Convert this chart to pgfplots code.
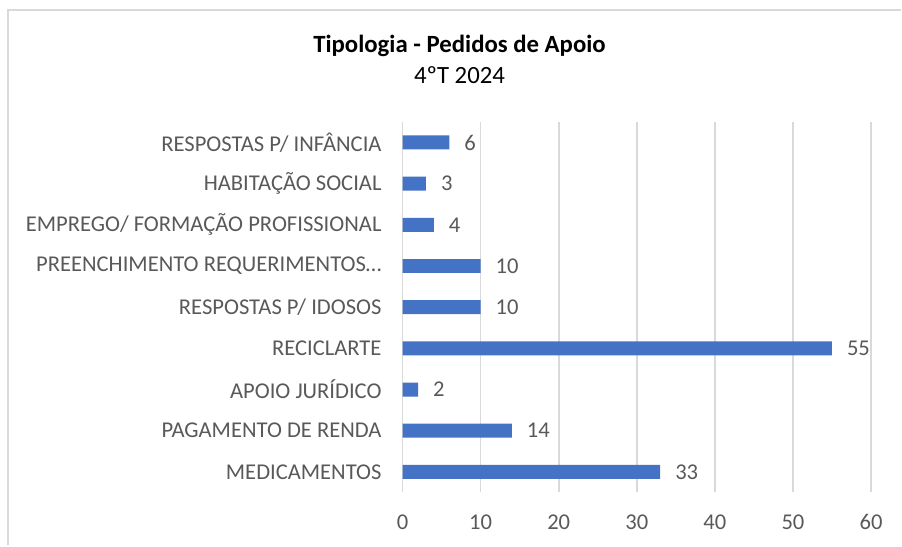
\documentclass[border=0pt]{standalone}
\usepackage{pgfplots}
\pgfplotsset{compat=1.18}
\usepackage{fontspec}
\setmainfont{Carlito}
\definecolor{barblue}{HTML}{4472C4}
\definecolor{txtgray}{HTML}{595959}
\definecolor{gridgray}{HTML}{D9D9D9}
\begin{document}
\begin{tikzpicture}
\begin{scope}[x=0.5pt,y=-0.5pt]
\path (0,0) rectangle (902,546);
\draw[gridgray, line width=1pt] (8,546) -- (8,10) -- (902,10);
\node[font=\bfseries\fontsize{12.4}{14}\selectfont] at (460,46) {Tipologia - Pedidos de Apoio};
\node[font=\fontsize{12.4}{14}\selectfont] at (460,75) {4ºT 2024};
\end{scope}
\begin{axis}[at={(201.5pt,-246.5pt)}, anchor=south west, scale only axis,
  width=234.5pt, height=185.5pt,
  xbar, bar width=7pt,
  xmin=0, xmax=60, ymin=-0.5, ymax=8.5, enlargelimits=false,
  xtick={0,10,...,60}, ytick={0,...,8},
  yticklabels={MEDICAMENTOS, PAGAMENTO DE RENDA, APOIO JURÍDICO, RECICLARTE, RESPOSTAS P/ IDOSOS, PREENCHIMENTO REQUERIMENTOS…, EMPREGO/ FORMAÇÃO PROFISSIONAL, HABITAÇÃO SOCIAL, RESPOSTAS P/ INFÂNCIA},
  /pgf/number format/assume math mode=true,
  axis line style={draw=none},
  major tick length=0pt,
  xmajorgrids, grid style={gridgray, line width=0.8pt},
  ticklabel style={font=\fontsize{11.3}{13}\selectfont, text=txtgray},
  xticklabel style={yshift=-7.5pt},
  yticklabel style={xshift=-7pt},
  nodes near coords,
  every node near coord/.append style={anchor=west, xshift=4pt, text=txtgray, font=\fontsize{11.3}{13}\selectfont},
]
\addplot[fill=barblue, draw=none] coordinates {(33,0) (14,1) (2,2) (55,3) (10,4) (10,5) (4,6) (3,7) (6,8)};
\end{axis}
\end{tikzpicture}
\end{document}
